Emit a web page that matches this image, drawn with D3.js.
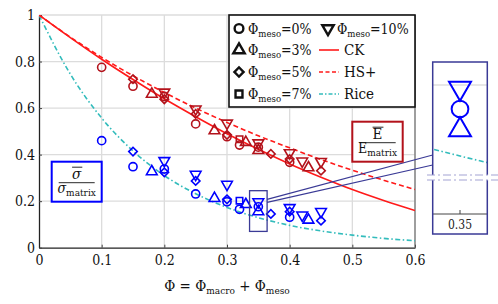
<!DOCTYPE html>
<html>
<head>
<meta charset="utf-8">
<script src="https://cdn.jsdelivr.net/npm/d3@7"></script>
<style>
  body { margin: 0; background: #fff; }
  svg text { font-family: "DejaVu Serif Condensed", "DejaVu Serif", serif; font-stretch: condensed; }
</style>
</head>
<body>
<svg id="chart" width="498" height="304"></svg>
<script>
// model curves
var curveX = [0, 0.05, 0.1, 0.15, 0.2, 0.25, 0.3, 0.35, 0.4, 0.45, 0.5, 0.55, 0.6];
var ck     = [1, 0.903, 0.81, 0.723, 0.64, 0.563, 0.49, 0.423, 0.36, 0.303, 0.25, 0.203, 0.16];
var hsPlus = [1, 0.905, 0.818, 0.739, 0.667, 0.6, 0.538, 0.481, 0.429, 0.379, 0.333, 0.29, 0.25];
var rice   = [1, 0.746, 0.557, 0.416, 0.31, 0.232, 0.173, 0.129, 0.096, 0.072, 0.054, 0.04, 0.03];

// measured points: x = porosity, E = E/Ematrix, S = sigma/sigma_matrix
var meso0_x = [0.1, 0.15, 0.2, 0.25, 0.3, 0.32, 0.35, 0.4];
var meso0_E = [0.775, 0.694, 0.65, 0.532, 0.477, 0.441, 0.432, 0.367];
var meso0_S = [0.46, 0.348, 0.338, 0.231, 0.197, 0.165, 0.176, 0.131];

var meso3_x = [0.18, 0.28, 0.33, 0.35, 0.43];
var meso3_E = [0.66, 0.503, 0.453, 0.418, 0.344];
var meso3_S = [0.327, 0.212, 0.186, 0.155, 0.119];

var meso5_x = [0.15, 0.2, 0.25, 0.3, 0.37, 0.4, 0.45];
var meso5_E = [0.724, 0.638, 0.575, 0.485, 0.403, 0.381, 0.331];
var meso5_S = [0.413, 0.324, 0.287, 0.208, 0.145, 0.155, 0.116];

var meso7_x = [0.32];
var meso7_E = [0.466];
var meso7_S = [0.202];

var meso10_x = [0.2, 0.25, 0.3, 0.35, 0.4, 0.42, 0.45];
var meso10_E = [0.668, 0.596, 0.535, 0.45, 0.408, 0.372, 0.37];
var meso10_S = [0.374, 0.315, 0.272, 0.197, 0.172, 0.14, 0.155];

var mesoLabels = ["0%", "3%", "5%", "7%", "10%"];
var xTicks = [0, 0.1, 0.2, 0.3, 0.4, 0.5, 0.6];
var yTicks = [0, 0.2, 0.4, 0.6, 0.8, 1];

var series = [
  {label: mesoLabels[0], shape: "circle",  x: meso0_x,  E: meso0_E,  S: meso0_S},
  {label: mesoLabels[1], shape: "tri",     x: meso3_x,  E: meso3_E,  S: meso3_S},
  {label: mesoLabels[2], shape: "diamond", x: meso5_x,  E: meso5_E,  S: meso5_S},
  {label: mesoLabels[3], shape: "square",  x: meso7_x,  E: meso7_E,  S: meso7_S},
  {label: mesoLabels[4], shape: "itri",    x: meso10_x, E: meso10_E, S: meso10_S}
];

var RED = "#b3121b", BLUE = "#0000ff", CKRED = "#ff1a1a", CYAN = "#33bcbc", FRAME = "#3a3a96";
var FONT = "DejaVu Serif Condensed, DejaVu Serif, serif";

var svg = d3.select("#chart").attr("font-family", FONT);
var x = d3.scaleLinear().domain([0, 0.6]).range([39, 415]);
var y = d3.scaleLinear().domain([0, 1]).range([247.7, 15]);

svg.append("clipPath").attr("id", "plotclip")
   .append("rect").attr("x", 39).attr("y", 15).attr("width", 376).attr("height", 232.7);

// grid
svg.append("g").selectAll("line").data(xTicks.slice(1)).enter().append("line")
   .attr("x1", function(d){ return x(d); }).attr("x2", function(d){ return x(d); })
   .attr("y1", y(0)).attr("y2", y(1))
   .style("stroke", "#dcdcdc").style("stroke-width", 1.3);
svg.append("g").selectAll("line").data(yTicks.slice(1)).enter().append("line")
   .attr("x1", x(0)).attr("x2", x(0.6))
   .attr("y1", function(d){ return y(d); }).attr("y2", function(d){ return y(d); })
   .style("stroke", "#dcdcdc").style("stroke-width", 1.3);

// axes
var xAxis = svg.append("g").attr("transform", "translate(0," + y(0) + ")")
   .call(d3.axisBottom(x).tickValues(xTicks).tickFormat(function(d){ return d === 0 ? "0" : d3.format(".1f")(d); }).tickSizeInner(-3).tickSizeOuter(0).tickPadding(7));
var yAxis = svg.append("g").attr("transform", "translate(" + x(0) + ",0)")
   .call(d3.axisLeft(y).tickValues(yTicks).tickFormat(function(d){ return d === 0 || d === 1 ? String(d) : d3.format(".1f")(d); }).tickSizeInner(-3).tickSizeOuter(0).tickPadding(4));
[xAxis, yAxis].forEach(function(a){
  a.attr("font-family", FONT).attr("font-size", 14);
  a.select(".domain").style("stroke", "#222").style("stroke-width", 1.3);
  a.selectAll(".tick line").style("stroke", "#444");
  a.selectAll("text").style("fill", "#111");
});
// right frame
svg.append("line").attr("x1", x(0.6)).attr("x2", x(0.6)).attr("y1", y(0)).attr("y2", y(1)).style("stroke", "#555");

// model curves
var line = d3.line()
  .x(function(d){ return x(d[0]); })
  .y(function(d){ return y(d[1]); })
  .curve(d3.curveMonotoneX);
var curves = svg.append("g").attr("clip-path", "url(#plotclip)");
curves.append("path").datum(d3.zip(curveX, rice)).attr("d", line)
  .style("fill", "none").style("stroke", CYAN).style("stroke-width", 1.6).style("stroke-dasharray", "5,2.5,1.5,2.5");
curves.append("path").datum(d3.zip(curveX, ck)).attr("d", line)
  .style("fill", "none").style("stroke", CKRED).style("stroke-width", 1.6);
curves.append("path").datum(d3.zip(curveX, hsPlus)).attr("d", line)
  .style("fill", "none").style("stroke", CKRED).style("stroke-width", 1.6).style("stroke-dasharray", "5,3");

// marker helper
function marker(shape, size){
  if (shape === "circle") return {d: d3.symbol().type(d3.symbolCircle).size(size)(), rot: 0};
  if (shape === "tri")    return {d: d3.symbol().type(d3.symbolTriangle).size(size * 0.95)(), rot: 0};
  if (shape === "itri")   return {d: d3.symbol().type(d3.symbolTriangle).size(size * 0.95)(), rot: 180};
  if (shape === "diamond")return {d: d3.symbol().type(d3.symbolSquare).size(size * 0.7)(), rot: 45};
  return {d: d3.symbol().type(d3.symbolSquare).size(size * 0.8)(), rot: 0};
}
function drawPoints(g, sx, sy, key, color, size, sw){
  series.forEach(function(s){
    var m = marker(s.shape, size);
    var pts = d3.zip(s.x, s[key]);
    g.selectAll(null).data(pts).enter().append("path")
      .attr("d", m.d)
      .attr("transform", function(d){ return "translate(" + sx(d[0]) + "," + sy(d[1]) + ") rotate(" + m.rot + ")"; })
      .style("fill", "none").style("stroke", color).style("stroke-width", sw);
  });
}
drawPoints(svg.append("g"), x, y, "E", RED, 52, 1.6);
drawPoints(svg.append("g"), x, y, "S", BLUE, 52, 1.6);

// zoom source rectangle and connectors
var zx0 = 0.336, zx1 = 0.364, zy0 = 0.07, zy1 = 0.245;
svg.append("rect").attr("x", x(zx0)).attr("y", y(zy1)).attr("width", x(zx1) - x(zx0)).attr("height", y(zy0) - y(zy1))
  .style("fill", "none").style("stroke", FRAME).style("stroke-width", 1.3);

// inset
var ix = d3.scaleLinear().domain([0.3412, 0.3588]).range([432.7, 487.3]);
var iy = d3.scaleLinear().domain([0.071, 0.223]).range([214, 62]);
svg.append("line").attr("x1", x(zx1)).attr("y1", y(0.208)).attr("x2", ix.range()[0]).attr("y2", iy(0.13))
  .style("stroke", FRAME).style("stroke-width", 1.2);
svg.append("line").attr("x1", x(zx1)).attr("y1", y(0.195)).attr("x2", ix.range()[0]).attr("y2", iy(0.12))
  .style("stroke", FRAME).style("stroke-width", 1.2);

var inset = svg.append("g");
inset.append("rect").attr("x", 432.7).attr("y", 62).attr("width", 54.6).attr("height", 172).style("fill", "#fff");
inset.append("clipPath").attr("id", "insetclip")
  .append("rect").attr("x", 432.7).attr("y", 62).attr("width", 54.6).attr("height", 152);
var ig = inset.append("g").attr("clip-path", "url(#insetclip)");
ig.append("line").attr("x1", 432.7).attr("x2", 487.3).attr("y1", iy(0.2)).attr("y2", iy(0.2))
  .style("stroke", "#d0d0d0").style("stroke-width", 1.2);
var iline = d3.line().x(function(d){ return ix(d[0]); }).y(function(d){ return iy(d[1]); }).curve(d3.curveMonotoneX);
ig.append("path").datum(d3.zip(curveX, rice)).attr("d", iline)
  .style("fill", "none").style("stroke", CYAN).style("stroke-width", 1.6).style("stroke-dasharray", "5,2.5,1.5,2.5");
drawPoints(ig, ix, iy, "S", BLUE, 220, 2);
inset.append("line").attr("x1", 432.7).attr("x2", 487.3).attr("y1", 214).attr("y2", 214).style("stroke", "#444");
inset.append("line").attr("x1", ix(0.35)).attr("x2", ix(0.35)).attr("y1", 214).attr("y2", 210).style("stroke", "#444");
inset.append("text").attr("x", ix(0.35)).attr("y", 229).attr("text-anchor", "middle")
  .style("font-size", "12px").style("fill", "#222").text("0.35");
inset.append("rect").attr("x", 432.7).attr("y", 62).attr("width", 54.6).attr("height", 172)
  .style("fill", "none").style("stroke", FRAME).style("stroke-width", 1.5);
// break marks
inset.append("rect").attr("x", 427).attr("y", 175).attr("width", 71).attr("height", 5).style("fill", "#fff");
[175, 180].forEach(function(v){
  inset.append("line").attr("x1", 427).attr("x2", 498).attr("y1", v).attr("y2", v)
    .style("stroke", "#a4a4d4").style("stroke-width", 1.2).style("stroke-dasharray", "8,3,2,3");
});

// label boxes
function fracBox(bx, by, bw, bh, color, num, den, sub){
  var g = svg.append("g");
  g.append("rect").attr("x", bx).attr("y", by).attr("width", bw).attr("height", bh)
    .style("fill", "#fff").style("stroke", color).style("stroke-width", 2);
  var cx = bx + bw / 2;
  var ital = num === "σ" ? "italic" : "normal";
  var t = g.append("text").attr("x", cx).attr("y", by + 17).attr("text-anchor", "middle")
    .style("font-size", "15px").style("font-style", ital).style("fill", "#111").text(num);
  var w = t.node().getComputedTextLength();
  g.append("line").attr("x1", cx - w / 2).attr("x2", cx + w / 2 + 1).attr("y1", by + 5.5).attr("y2", by + 5.5)
    .style("stroke", "#111").style("stroke-width", 0.9);
  g.append("line").attr("x1", bx + 7).attr("x2", bx + bw - 7).attr("y1", by + bh / 2 + 1).attr("y2", by + bh / 2 + 1)
    .style("stroke", "#111").style("stroke-width", 0.9);
  var d = g.append("text").attr("x", cx).attr("y", by + bh - 9).attr("text-anchor", "middle").style("fill", "#111");
  d.append("tspan").style("font-size", "14px").style("font-style", ital).text(den);
  d.append("tspan").style("font-size", "10px").attr("dy", 3).text(sub);
}
fracBox(51.7, 161.7, 50, 40, BLUE, "σ", "σ", "matrix");
fracBox(352.3, 121.7, 50.4, 40, RED, "E", "E", "matrix");

// legend
var lg = svg.append("g");
lg.append("rect").attr("x", 229).attr("y", 15).attr("width", 186).attr("height", 92)
  .style("fill", "#fff").style("stroke", "#111").style("stroke-width", 1.6);
var rowY = [28.5, 50, 72, 94];
function phiLabel(g, tx, ty, rest){
  var t = g.append("text").attr("x", tx).attr("y", ty + 5).style("fill", "#111").style("font-size", "14px");
  t.append("tspan").text("Φ");
  t.append("tspan").style("font-size", "9.5px").attr("dy", 3).text("meso");
  t.append("tspan").attr("dy", -3).text(rest);
}
series.forEach(function(s, i){
  var col = i < 4 ? 0 : 1, row = i < 4 ? i : 0;
  var mx = col === 0 ? 239 : 328;
  var m = marker(s.shape, 60);
  lg.append("path").attr("d", m.d)
    .attr("transform", "translate(" + mx + "," + rowY[row] + ") rotate(" + m.rot + ")")
    .style("fill", "none").style("stroke", "#111").style("stroke-width", 2.4);
  phiLabel(lg, mx + 9, rowY[row], "=" + s.label);
});
var lineKeys = [
  {name: "CK", color: CKRED, dash: null},
  {name: "HS+", color: CKRED, dash: "4,2.5"},
  {name: "Rice", color: CYAN, dash: "4,2,1.5,2"}
];
lineKeys.forEach(function(k, i){
  lg.append("line").attr("x1", 319).attr("x2", 339).attr("y1", rowY[i + 1]).attr("y2", rowY[i + 1])
    .style("stroke", k.color).style("stroke-width", 1.6).style("stroke-dasharray", k.dash);
  lg.append("text").attr("x", 344).attr("y", rowY[i + 1] + 5).style("font-size", "15px").style("fill", "#111").text(k.name);
});

// x axis title
var xt = svg.append("text").attr("x", 227).attr("y", 291).attr("text-anchor", "middle").style("font-size", "15px").style("fill", "#111");
xt.append("tspan").text("Φ = Φ");
xt.append("tspan").style("font-size", "10px").attr("dy", 3).text("macro");
xt.append("tspan").attr("dy", -3).text(" + Φ");
xt.append("tspan").style("font-size", "10px").attr("dy", 3).text("meso");
</script>
</body>
</html>
